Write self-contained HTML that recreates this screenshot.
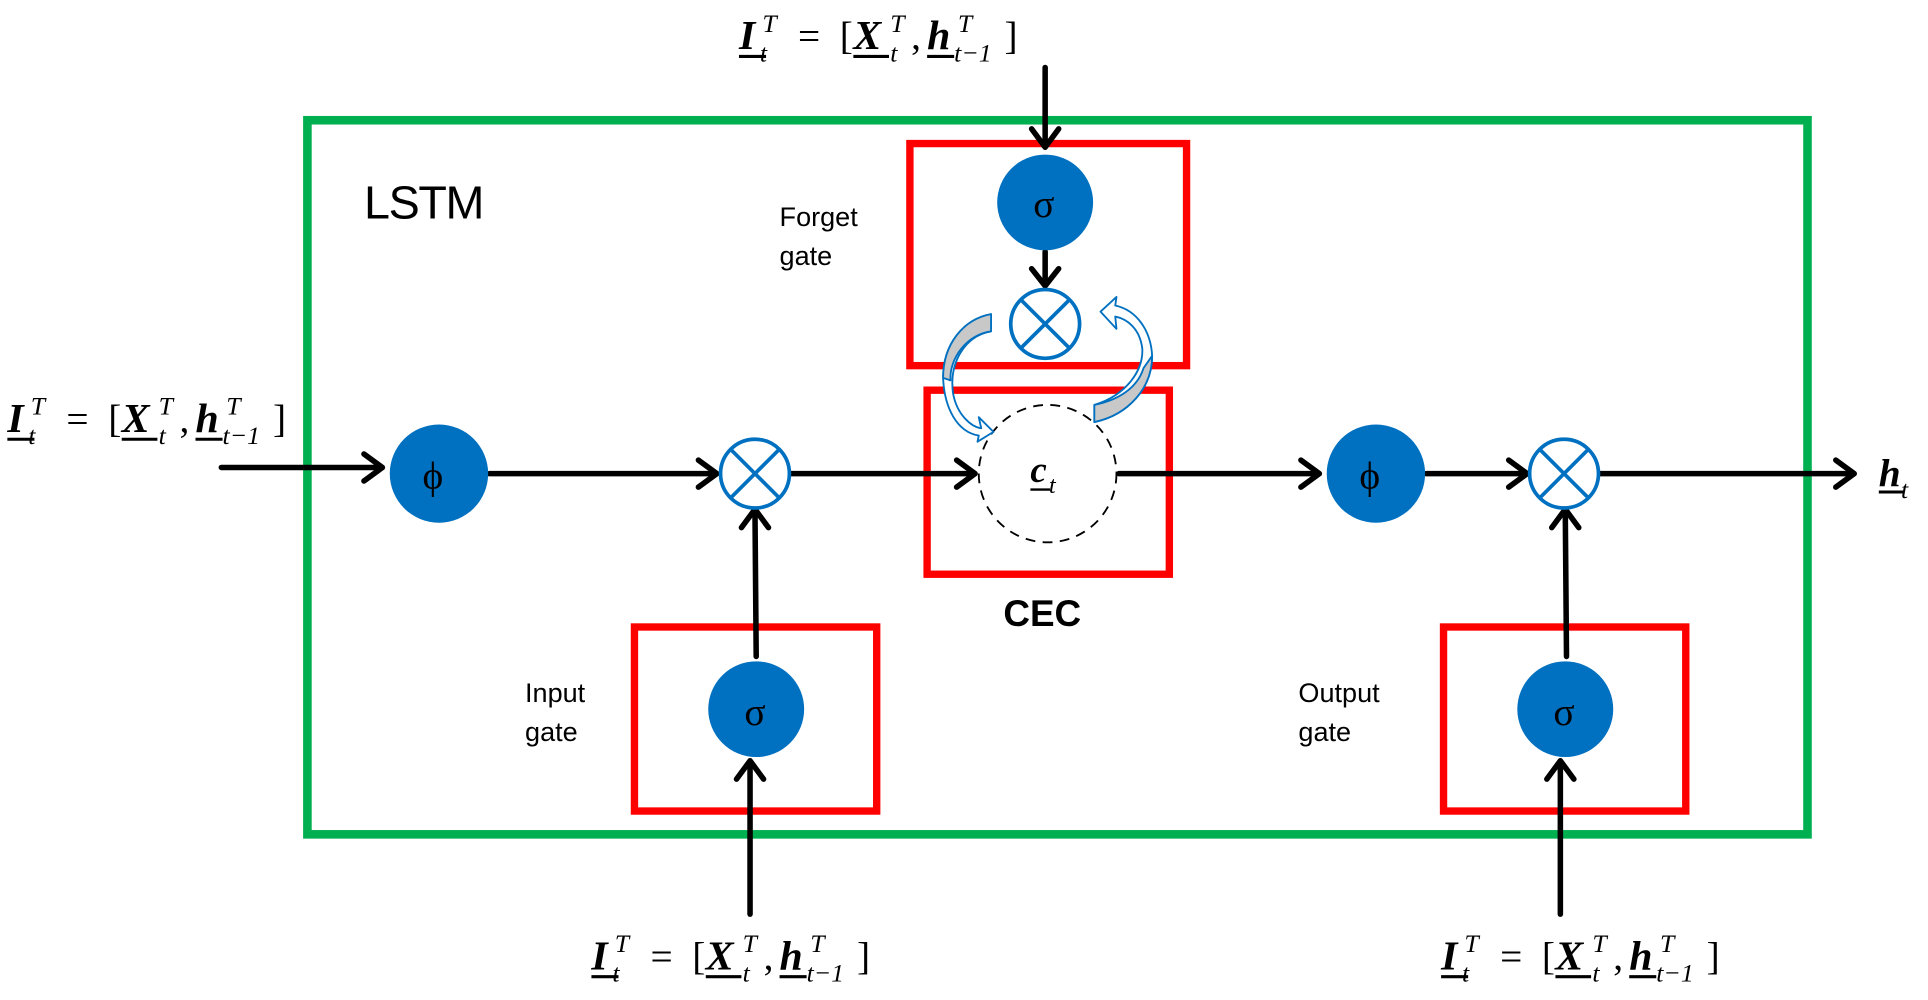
<!DOCTYPE html>
<html><head><meta charset="utf-8"><style>
html,body{margin:0;padding:0;background:#fff;}
svg{display:block;}
.f{font-family:"Liberation Serif",serif;}
.s{font-family:"Liberation Sans",sans-serif;}
</style></head><body>
<svg width="1928" height="1000" viewBox="0 0 1568 815" preserveAspectRatio="none" xmlns="http://www.w3.org/2000/svg">
<defs>
<g id="fm">
<text class="f" x="0" y="0" font-size="34" font-weight="bold" font-style="italic">I</text>
<text class="f" x="19" y="-14" font-size="21" font-style="italic">T</text>
<text class="f" x="17" y="10" font-size="21" font-style="italic">t</text>
<text class="f" x="48" y="0" font-size="32">=</text>
<text class="f" x="82" y="0" font-size="32">[</text>
<text class="f" x="93" y="0" font-size="34" font-weight="bold" font-style="italic">X</text>
<text class="f" x="123" y="-14" font-size="21" font-style="italic">T</text>
<text class="f" x="123" y="10" font-size="21" font-style="italic">t</text>
<text class="f" x="140" y="0" font-size="32">,</text>
<text class="f" x="153" y="0" font-size="34" font-weight="bold" font-style="italic">h</text>
<text class="f" x="178" y="-14" font-size="21" font-style="italic">T</text>
<text class="f" x="175" y="10" font-size="21" font-style="italic">t−1</text>
<text class="f" x="216" y="0" font-size="32">]</text>
<line x1="0" y1="6" x2="22" y2="6" stroke="#000" stroke-width="2.5"/>
<line x1="93" y1="6" x2="122" y2="6" stroke="#000" stroke-width="2.5"/>
<line x1="153" y1="6" x2="175" y2="6" stroke="#000" stroke-width="2.5"/>
</g>
</defs>

<rect x="250" y="98" width="1220" height="582" fill="none" stroke="#00b050" stroke-width="7"/>
<text class="s" x="296" y="178" font-size="38" textLength="98">LSTM</text>

<g fill="none" stroke="#ff0000" stroke-width="6">
<rect x="740" y="117" width="225" height="181"/>
<rect x="754" y="318" width="197" height="150"/>
<rect x="516" y="511" width="197" height="150"/>
<rect x="1174" y="511" width="197" height="150"/>
</g>

<g class="s" font-size="22" fill="#000">
<text x="634" y="184">Forget</text><text x="634" y="216">gate</text>
<text x="427" y="572">Input</text><text x="427" y="604">gate</text>
<text x="1056" y="572">Output</text><text x="1056" y="604">gate</text>
</g>
<text class="s" x="816" y="510" font-size="30" font-weight="bold">CEC</text>

<g stroke="#000" stroke-width="4.5" fill="none" stroke-linecap="round" stroke-linejoin="round">
<line x1="180" y1="381" x2="310" y2="381"/><polyline points="296,370 311,381 296,392"/>
<line x1="398" y1="386" x2="582" y2="386"/><polyline points="568,375 583,386 568,397"/>
<line x1="643" y1="386" x2="792" y2="386"/><polyline points="778,375 793,386 778,397"/>
<line x1="910" y1="386" x2="1072" y2="386"/><polyline points="1058,375 1073,386 1058,397"/>
<line x1="1160" y1="386" x2="1241" y2="386"/><polyline points="1227,375 1242,386 1227,397"/>
<line x1="1301" y1="386" x2="1507" y2="386"/><polyline points="1493,375 1508,386 1493,397"/>
<line x1="850" y1="55" x2="850" y2="119"/><polyline points="839,105 850,120 861,105"/>
<line x1="850" y1="205" x2="850" y2="232"/><polyline points="839,219 850,233 861,219"/>
<line x1="615" y1="535" x2="614" y2="416"/><polyline points="603,430 614,415 625,430"/>
<line x1="610" y1="745" x2="610" y2="621"/><polyline points="599,635 610,620 621,635"/>
<line x1="1274" y1="535" x2="1273" y2="416"/><polyline points="1262,430 1273,415 1284,430"/>
<line x1="1269" y1="745" x2="1269" y2="621"/><polyline points="1258,635 1269,620 1280,635"/>
</g>

<g fill="#0070c0">
<circle cx="357" cy="386" r="40"/>
<circle cx="850" cy="165" r="39"/>
<circle cx="615" cy="578" r="39"/>
<circle cx="1119" cy="386" r="40"/>
<circle cx="1273" cy="578" r="39"/>
</g>
<g class="f" font-size="32" text-anchor="middle" fill="#000">
<text x="352" y="398">ϕ</text>
<text x="849" y="177">σ</text>
<text x="614" y="591">σ</text>
<text x="1114" y="398">ϕ</text>
<text x="1272" y="591">σ</text>
</g>

<g fill="#fff" stroke="#0070c0" stroke-width="3">
<circle cx="850" cy="264" r="28"/>
<circle cx="614" cy="386" r="28"/>
<circle cx="1272" cy="386" r="28"/>
<path d="M830,244 L870,284 M870,244 L830,284"/>
<path d="M594,366 L634,406 M634,366 L594,406"/>
<path d="M1252,366 L1292,406 M1292,366 L1252,406"/>
</g>

<circle cx="852" cy="386" r="56" fill="none" stroke="#000" stroke-width="1.5" stroke-dasharray="8,6"/>
<text class="f" x="838" y="393" font-size="30" font-weight="bold" font-style="italic">c</text>
<text class="f" x="853" y="402" font-size="20" font-style="italic">t</text>
<line x1="838" y1="399" x2="854" y2="399" stroke="#000" stroke-width="2"/>

<g stroke="#0070c0" stroke-width="1.5" stroke-linejoin="round">
<path d="M806,256 L806,270 C784,274 772,296 775,320 C778,338 790,348 798,349 L796,340 L808,352 L795,360 L796,355 C778,352 768,332 767,308 C767,280 784,260 806,256 Z" fill="#fff"/>
<path d="M806,256 C784,260 767,280 767,308 L773,310 C772,292 786,273 806,270 Z" fill="#c8c8c8"/>
<path d="M890,344 L890,330 C916,322 930,302 929,284 C927,268 917,260 907,258 L908,268 L895,254 L908,242 L907,249 C925,253 936,270 937,290 C937,316 918,338 890,344 Z" fill="#fff"/>
<path d="M890,344 C918,338 937,316 937,290 L930,300 C925,316 910,326 890,330 Z" fill="#c8c8c8"/>
</g>

<text class="f" x="1528" y="396" font-size="32" font-weight="bold" font-style="italic">h</text>
<text class="f" x="1546" y="406" font-size="21" font-style="italic">t</text>
<line x1="1528" y1="401" x2="1548" y2="401" stroke="#000" stroke-width="2.5"/>

<use href="#fm" x="601" y="40"/>
<use href="#fm" x="6" y="352"/>
<use href="#fm" x="481" y="790"/>
<use href="#fm" x="1172" y="790"/>
</svg>
</body></html>
